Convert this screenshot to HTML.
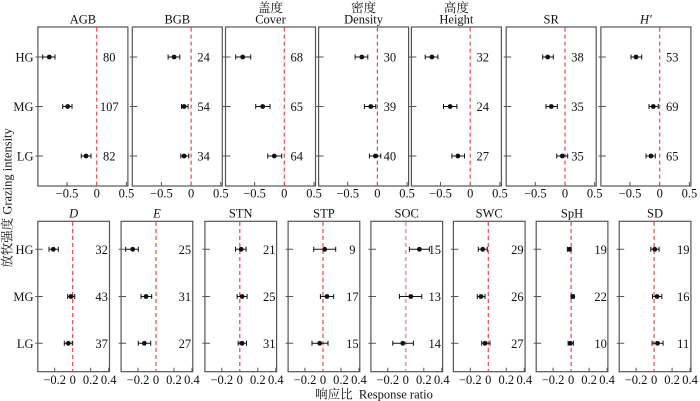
<!DOCTYPE html>
<html><head><meta charset="utf-8"><style>
html,body{margin:0;padding:0;background:#fff;}
svg{display:block}
text{font-family:"Liberation Serif","Noto Serif CJK SC",serif;font-size:12.5px;fill:#111}
.f{fill:none;stroke:#555;stroke-width:1.2}
.z{stroke:#e8474c;stroke-width:1.2;stroke-dasharray:4 3;fill:none}
.zp{stroke:#f3a3a6;stroke-width:1.8;stroke-dasharray:4 3;fill:none}
.k{stroke:#555;stroke-width:1;fill:none}
.e{stroke:#111;stroke-width:1;fill:none}
circle{fill:#111}
.m{text-anchor:middle}
.r{text-anchor:end}
.i{font-style:italic}
</style></head><body>
<svg width="700" height="401" xmlns="http://www.w3.org/2000/svg">
<rect width="700" height="401" fill="#fff"/>

<!-- y axis label -->
<text class="m" transform="translate(11.5,198) rotate(-90)">放牧强度 Grazing intensity</text>
<!-- x axis title -->
<text class="m" x="374" y="398.5">响应比&#160; Response ratio</text>

<!-- top row category labels -->
<text class="r" x="33.5" y="61.5">HG</text>
<text class="r" x="33.5" y="111">MG</text>
<text class="r" x="33.5" y="160.5">LG</text>
<!-- bottom row category labels -->
<text class="r" x="33.5" y="253.8">HG</text>
<text class="r" x="33.5" y="301">MG</text>
<text class="r" x="33.5" y="347.8">LG</text>

<!-- ============ TOP ROW ============ -->
<!-- AGB -->
<g transform="translate(37.9,0)">
<rect class="f" x="0" y="27" width="90" height="159"/>
<path class="k" d="M-2.5 57H5M-2.5 106.5H5M-2.5 156H5M29.1 186V182M88.5 186V182"/>
<line class="z" x1="58.8" y1="27.6" x2="58.8" y2="185.4"/>
<text class="m" x="45" y="23.5">AGB</text>
<g transform="translate(58.8,0)">
<path class="e" d="M-54 57H-41.7M-54 54.5V59.5M-41.7 54.5V59.5M-34 106.5H-24.7M-34 104V109M-24.7 104V109M-15.4 156H-5.7M-15.4 153.5V158.5M-5.7 153.5V158.5"/>
<circle cx="-47.4" cy="57" r="2.4"/><circle cx="-29" cy="106.5" r="2.4"/><circle cx="-10.7" cy="156" r="2.4"/>
</g>
<text class="m" x="71.3" y="61.5">80</text><text class="m" x="71.3" y="111">107</text><text class="m" x="71.3" y="160.5">82</text>
<text class="m" x="29.1" y="197.5">−0.5</text><text class="m" x="58.8" y="197.5">0</text><text class="m" x="88.5" y="197.5">0.5</text>
</g>

<!-- BGB -->
<g transform="translate(132.3,0)">
<rect class="f" x="0" y="27" width="90" height="159"/>
<path class="k" d="M-2.5 57H5M-2.5 106.5H5M-2.5 156H5M29.1 186V182M88.5 186V182"/>
<line class="z" x1="58.8" y1="27.6" x2="58.8" y2="185.4"/>
<text class="m" x="45" y="23.5">BGB</text>
<g transform="translate(58.8,0)">
<path class="e" d="M-23 57H-11.3M-23 54.5V59.5M-11.3 54.5V59.5M-9.6 106.5H-3M-9.6 104V109M-3 104V109M-10.3 156H-2.3M-10.3 153.5V158.5M-2.3 153.5V158.5"/>
<circle cx="-17" cy="57" r="2.4"/><circle cx="-7" cy="106.5" r="2.4"/><circle cx="-7" cy="156" r="2.4"/>
</g>
<text class="m" x="71.3" y="61.5">24</text><text class="m" x="71.3" y="111">54</text><text class="m" x="71.3" y="160.5">34</text>
<text class="m" x="29.1" y="197.5">−0.5</text><text class="m" x="58.8" y="197.5">0</text><text class="m" x="88.5" y="197.5">0.5</text>
</g>

<!-- Cover -->
<g transform="translate(225.5,0)">
<rect class="f" x="0" y="27" width="90" height="159"/>
<path class="k" d="M-2.5 57H5M-2.5 106.5H5M-2.5 156H5M29.1 186V182M88.5 186V182"/>
<line class="z" x1="58.8" y1="27.6" x2="58.8" y2="185.4"/>
<text class="m" x="45" y="12">盖度</text>
<text class="m" x="45" y="23.5">Cover</text>
<g transform="translate(58.8,0)">
<path class="e" d="M-48.6 57H-33.6M-48.6 54.5V59.5M-33.6 54.5V59.5M-28.6 106.5H-14.3M-28.6 104V109M-14.3 104V109M-16.6 156H-2.6M-16.6 153.5V158.5M-2.6 153.5V158.5"/>
<circle cx="-41.6" cy="57" r="2.4"/><circle cx="-21.6" cy="106.5" r="2.4"/><circle cx="-10" cy="156" r="2.4"/>
</g>
<text class="m" x="71.3" y="61.5">68</text><text class="m" x="71.3" y="111">65</text><text class="m" x="71.3" y="160.5">64</text>
<text class="m" x="29.1" y="197.5">−0.5</text><text class="m" x="58.8" y="197.5">0</text><text class="m" x="88.5" y="197.5">0.5</text>
</g>

<!-- Density -->
<g transform="translate(318.6,0)">
<rect class="f" x="0" y="27" width="90" height="159"/>
<path class="k" d="M-2.5 57H5M-2.5 106.5H5M-2.5 156H5M29.1 186V182M88.5 186V182"/>
<line class="z" x1="58.8" y1="27.6" x2="58.8" y2="185.4"/>
<text class="m" x="45" y="12">密度</text>
<text class="m" x="45" y="23.5">Density</text>
<g transform="translate(58.8,0)">
<path class="e" d="M-22.3 57H-9.6M-22.3 54.5V59.5M-9.6 54.5V59.5M-13 106.5H-1.6M-13 104V109M-1.6 104V109M-8 156H3.4M-8 153.5V158.5M3.4 153.5V158.5"/>
<circle cx="-15.6" cy="57" r="2.4"/><circle cx="-6.6" cy="106.5" r="2.4"/><circle cx="-2" cy="156" r="2.4"/>
</g>
<text class="m" x="71.3" y="61.5">30</text><text class="m" x="71.3" y="111">39</text><text class="m" x="71.3" y="160.5">40</text>
<text class="m" x="29.1" y="197.5">−0.5</text><text class="m" x="58.8" y="197.5">0</text><text class="m" x="88.5" y="197.5">0.5</text>
</g>

<!-- Height -->
<g transform="translate(411.4,0)">
<rect class="f" x="0" y="27" width="90" height="159"/>
<path class="k" d="M-2.5 57H5M-2.5 106.5H5M-2.5 156H5M29.1 186V182M88.5 186V182"/>
<line class="z" x1="58.8" y1="27.6" x2="58.8" y2="185.4"/>
<text class="m" x="45" y="12">高度</text>
<text class="m" x="45" y="23.5">Height</text>
<g transform="translate(58.8,0)">
<path class="e" d="M-45 57H-32.3M-45 54.5V59.5M-32.3 54.5V59.5M-26.7 106.5H-13.3M-26.7 104V109M-13.3 104V109M-18.3 156H-5.7M-18.3 153.5V158.5M-5.7 153.5V158.5"/>
<circle cx="-38.3" cy="57" r="2.4"/><circle cx="-20" cy="106.5" r="2.4"/><circle cx="-12.3" cy="156" r="2.4"/>
</g>
<text class="m" x="71.3" y="61.5">32</text><text class="m" x="71.3" y="111">24</text><text class="m" x="71.3" y="160.5">27</text>
<text class="m" x="29.1" y="197.5">−0.5</text><text class="m" x="58.8" y="197.5">0</text><text class="m" x="88.5" y="197.5">0.5</text>
</g>

<!-- SR -->
<g transform="translate(506.2,0)">
<rect class="f" x="0" y="27" width="90" height="159"/>
<path class="k" d="M-2.5 57H5M-2.5 106.5H5M-2.5 156H5M29.1 186V182M88.5 186V182"/>
<line class="z" x1="58.8" y1="27.6" x2="58.8" y2="185.4"/>
<text class="m" x="45" y="23.5">SR</text>
<g transform="translate(58.8,0)">
<path class="e" d="M-22.3 57H-11.7M-22.3 54.5V59.5M-11.7 54.5V59.5M-19 106.5H-7.7M-19 104V109M-7.7 104V109M-8.3 156H2.7M-8.3 153.5V158.5M2.7 153.5V158.5"/>
<circle cx="-17.3" cy="57" r="2.4"/><circle cx="-13.7" cy="106.5" r="2.4"/><circle cx="-2.7" cy="156" r="2.4"/>
</g>
<text class="m" x="71.3" y="61.5">38</text><text class="m" x="71.3" y="111">35</text><text class="m" x="71.3" y="160.5">35</text>
<text class="m" x="29.1" y="197.5">−0.5</text><text class="m" x="58.8" y="197.5">0</text><text class="m" x="88.5" y="197.5">0.5</text>
</g>

<!-- H' -->
<g transform="translate(600.9,0)">
<rect class="f" x="0" y="27" width="90" height="159"/>
<path class="k" d="M-2.5 57H5M-2.5 106.5H5M-2.5 156H5M29.1 186V182M88.5 186V182"/>
<line class="z" x1="58.8" y1="27.6" x2="58.8" y2="185.4"/>
<text class="m i" x="45" y="23.5">H′</text>
<g transform="translate(58.8,0)">
<path class="e" d="M-28.7 57H-18M-28.7 54.5V59.5M-18 54.5V59.5M-10.7 106.5H-1.4M-10.7 104V109M-1.4 104V109M-13.7 156H-4.4M-13.7 153.5V158.5M-4.4 153.5V158.5"/>
<circle cx="-23.7" cy="57" r="2.4"/><circle cx="-6.4" cy="106.5" r="2.4"/><circle cx="-8.7" cy="156" r="2.4"/>
</g>
<text class="m" x="71.3" y="61.5">53</text><text class="m" x="71.3" y="111">69</text><text class="m" x="71.3" y="160.5">65</text>
<text class="m" x="29.1" y="197.5">−0.5</text><text class="m" x="58.8" y="197.5">0</text><text class="m" x="88.5" y="197.5">0.5</text>
</g>

<!-- ============ BOTTOM ROW ============ -->
<!-- D -->
<g transform="translate(37.8,0)">
<rect class="f" x="0" y="221.3" width="71.7" height="150.4"/>
<path class="k" d="M-2.5 249.3H5M-2.5 296.5H5M-2.5 343.3H5M16.9 371.7V367.7M52.9 371.7V367.7M70.9 371.7V367.7"/>
<line class="z" x1="34.9" y1="222" x2="34.9" y2="371"/>
<text class="m i" x="35.8" y="217.5">D</text>
<g transform="translate(34.9,0)">
<path class="e" d="M-23.7 249.3H-14.4M-23.7 246.8V251.8M-14.4 246.8V251.8M-5 296.5H2M-5 294V299M2 294V299M-8.4 343.3H-0.4M-8.4 340.8V345.8M-0.4 340.8V345.8"/>
<circle cx="-19.4" cy="249.3" r="2.4"/><circle cx="-1.7" cy="296.5" r="2.4"/><circle cx="-4.4" cy="343.3" r="2.4"/>
</g>
<text class="m" x="63.8" y="253.8">32</text><text class="m" x="63.8" y="301">43</text><text class="m" x="63.8" y="347.8">37</text>
<text class="m" x="16.9" y="384">−0.2</text><text class="m" x="34.9" y="384">0</text><text class="m" x="52.9" y="384">0.2</text><text class="m" x="70.9" y="384">0.4</text>
</g>

<!-- E -->
<g transform="translate(121.1,0)">
<rect class="f" x="0" y="221.3" width="71.7" height="150.4"/>
<path class="k" d="M-2.5 249.3H5M-2.5 296.5H5M-2.5 343.3H5M16.9 371.7V367.7M52.9 371.7V367.7M70.9 371.7V367.7"/>
<line class="z" x1="34.9" y1="222" x2="34.9" y2="371"/>
<text class="m i" x="35.8" y="217.5">E</text>
<g transform="translate(34.9,0)">
<path class="e" d="M-30.3 249.3H-17.7M-30.3 246.8V251.8M-17.7 246.8V251.8M-15 296.5H-4.3M-15 294V299M-4.3 294V299M-17.7 343.3H-5.3M-17.7 340.8V345.8M-5.3 340.8V345.8"/>
<circle cx="-23.3" cy="249.3" r="2.4"/><circle cx="-10" cy="296.5" r="2.4"/><circle cx="-11.7" cy="343.3" r="2.4"/>
</g>
<text class="m" x="63.8" y="253.8">25</text><text class="m" x="63.8" y="301">31</text><text class="m" x="63.8" y="347.8">27</text>
<text class="m" x="16.9" y="384">−0.2</text><text class="m" x="34.9" y="384">0</text><text class="m" x="52.9" y="384">0.2</text><text class="m" x="70.9" y="384">0.4</text>
</g>

<!-- STN -->
<g transform="translate(204.9,0)">
<rect class="f" x="0" y="221.3" width="71.7" height="150.4"/>
<path class="k" d="M-2.5 249.3H5M-2.5 296.5H5M-2.5 343.3H5M16.9 371.7V367.7M52.9 371.7V367.7M70.9 371.7V367.7"/>
<line class="z" x1="34.9" y1="222" x2="34.9" y2="371"/>
<text class="m" x="35.8" y="217.5">STN</text>
<g transform="translate(34.9,0)">
<path class="e" d="M-4.3 249.3H6.3M-4.3 246.8V251.8M6.3 246.8V251.8M-2.7 296.5H7.3M-2.7 294V299M7.3 294V299M-1.7 343.3H6.7M-1.7 340.8V345.8M6.7 340.8V345.8"/>
<circle cx="1.3" cy="249.3" r="2.4"/><circle cx="2.3" cy="296.5" r="2.4"/><circle cx="2.3" cy="343.3" r="2.4"/>
</g>
<text class="m" x="64.3" y="253.8">21</text><text class="m" x="64.3" y="301">25</text><text class="m" x="64.3" y="347.8">31</text>
<text class="m" x="16.9" y="384">−0.2</text><text class="m" x="34.9" y="384">0</text><text class="m" x="52.9" y="384">0.2</text><text class="m" x="70.9" y="384">0.4</text>
</g>

<!-- STP -->
<g transform="translate(288.1,0)">
<rect class="f" x="0" y="221.3" width="71.7" height="150.4"/>
<path class="k" d="M-2.5 249.3H5M-2.5 296.5H5M-2.5 343.3H5M16.9 371.7V367.7M52.9 371.7V367.7M70.9 371.7V367.7"/>
<line class="z" x1="34.9" y1="222" x2="34.9" y2="371"/>
<text class="m" x="35.8" y="217.5">STP</text>
<g transform="translate(34.9,0)">
<path class="e" d="M-9.3 249.3H12.7M-9.3 246.8V251.8M12.7 246.8V251.8M-2.6 296.5H10.7M-2.6 294V299M10.7 294V299M-11 343.3H5M-11 340.8V345.8M5 340.8V345.8"/>
<circle cx="1.7" cy="249.3" r="2.4"/><circle cx="4" cy="296.5" r="2.4"/><circle cx="-3.3" cy="343.3" r="2.4"/>
</g>
<text class="m" x="64.3" y="253.8">9</text><text class="m" x="64.3" y="301">17</text><text class="m" x="64.3" y="347.8">15</text>
<text class="m" x="16.9" y="384">−0.2</text><text class="m" x="34.9" y="384">0</text><text class="m" x="52.9" y="384">0.2</text><text class="m" x="70.9" y="384">0.4</text>
</g>

<!-- SOC -->
<g transform="translate(370.9,0)">
<rect class="f" x="0" y="221.3" width="71.7" height="150.4"/>
<path class="k" d="M-2.5 249.3H5M-2.5 296.5H5M-2.5 343.3H5M16.9 371.7V367.7M52.9 371.7V367.7M70.9 371.7V367.7"/>
<line class="zp" x1="34.9" y1="222" x2="34.9" y2="371"/>
<text class="m" x="35.8" y="217.5">SOC</text>
<g transform="translate(34.9,0)">
<path class="e" d="M3.6 249.3H23.6M3.6 246.8V251.8M23.6 246.8V251.8M-6.4 296.5H16M-6.4 294V299M16 294V299M-13 343.3H7.6M-13 340.8V345.8M7.6 340.8V345.8"/>
<circle cx="13.6" cy="249.3" r="2.4"/><circle cx="5" cy="296.5" r="2.4"/><circle cx="-3" cy="343.3" r="2.4"/>
</g>
<text class="m" x="63.8" y="253.8">15</text><text class="m" x="63.8" y="301">13</text><text class="m" x="63.8" y="347.8">14</text>
<text class="m" x="16.9" y="384">−0.2</text><text class="m" x="34.9" y="384">0</text><text class="m" x="52.9" y="384">0.2</text><text class="m" x="70.9" y="384">0.4</text>
</g>

<!-- SWC -->
<g transform="translate(453.4,0)">
<rect class="f" x="0" y="221.3" width="71.7" height="150.4"/>
<path class="k" d="M-2.5 249.3H5M-2.5 296.5H5M-2.5 343.3H5M16.9 371.7V367.7M52.9 371.7V367.7M70.9 371.7V367.7"/>
<line class="z" x1="34.9" y1="222" x2="34.9" y2="371"/>
<text class="m" x="35.8" y="217.5">SWC</text>
<g transform="translate(34.9,0)">
<path class="e" d="M-10 249.3H-1M-10 246.8V251.8M-1 246.8V251.8M-11 296.5H-3.3M-11 294V299M-3.3 294V299M-6.6 343.3H1.7M-6.6 340.8V345.8M1.7 340.8V345.8"/>
<circle cx="-5.6" cy="249.3" r="2.4"/><circle cx="-7.3" cy="296.5" r="2.4"/><circle cx="-3.3" cy="343.3" r="2.4"/>
</g>
<text class="m" x="64" y="253.8">29</text><text class="m" x="64" y="301">26</text><text class="m" x="64" y="347.8">27</text>
<text class="m" x="16.9" y="384">−0.2</text><text class="m" x="34.9" y="384">0</text><text class="m" x="52.9" y="384">0.2</text><text class="m" x="70.9" y="384">0.4</text>
</g>

<!-- SpH -->
<g transform="translate(536.2,0)">
<rect class="f" x="0" y="221.3" width="71.7" height="150.4"/>
<path class="k" d="M-2.5 249.3H5M-2.5 296.5H5M-2.5 343.3H5M16.9 371.7V367.7M52.9 371.7V367.7M70.9 371.7V367.7"/>
<line class="z" x1="34.9" y1="222" x2="34.9" y2="371"/>
<text class="m" x="35.8" y="217.5">SpH</text>
<g transform="translate(34.9,0)">
<path class="e" d="M-3.7 249.3H0M-3.7 246.8V251.8M0 246.8V251.8M0 296.5H3M0 294V299M3 294V299M-3 343.3H2.3M-3 340.8V345.8M2.3 340.8V345.8"/>
<circle cx="-1.7" cy="249.3" r="2.4"/><circle cx="1.7" cy="296.5" r="2.4"/><circle cx="-0.7" cy="343.3" r="2.4"/>
</g>
<text class="m" x="64.4" y="253.8">19</text><text class="m" x="64.4" y="301">22</text><text class="m" x="64.4" y="347.8">10</text>
<text class="m" x="16.9" y="384">−0.2</text><text class="m" x="34.9" y="384">0</text><text class="m" x="52.9" y="384">0.2</text><text class="m" x="70.9" y="384">0.4</text>
</g>

<!-- SD -->
<g transform="translate(619.2,0)">
<rect class="f" x="0" y="221.3" width="71.7" height="150.4"/>
<path class="k" d="M-2.5 249.3H5M-2.5 296.5H5M-2.5 343.3H5M16.9 371.7V367.7M52.9 371.7V367.7M70.9 371.7V367.7"/>
<line class="z" x1="34.9" y1="222" x2="34.9" y2="371"/>
<text class="m" x="35.8" y="217.5">SD</text>
<g transform="translate(34.9,0)">
<path class="e" d="M-3.3 249.3H5M-3.3 246.8V251.8M5 246.8V251.8M-1.6 296.5H7.7M-1.6 294V299M7.7 294V299M-2 343.3H9M-2 340.8V345.8M9 340.8V345.8"/>
<circle cx="0.7" cy="249.3" r="2.4"/><circle cx="3" cy="296.5" r="2.4"/><circle cx="3.4" cy="343.3" r="2.4"/>
</g>
<text class="m" x="64" y="253.8">19</text><text class="m" x="64" y="301">16</text><text class="m" x="64" y="347.8">11</text>
<text class="m" x="16.9" y="384">−0.2</text><text class="m" x="34.9" y="384">0</text><text class="m" x="52.9" y="384">0.2</text><text class="m" x="70.9" y="384">0.4</text>
</g>

</svg>
</body></html>
